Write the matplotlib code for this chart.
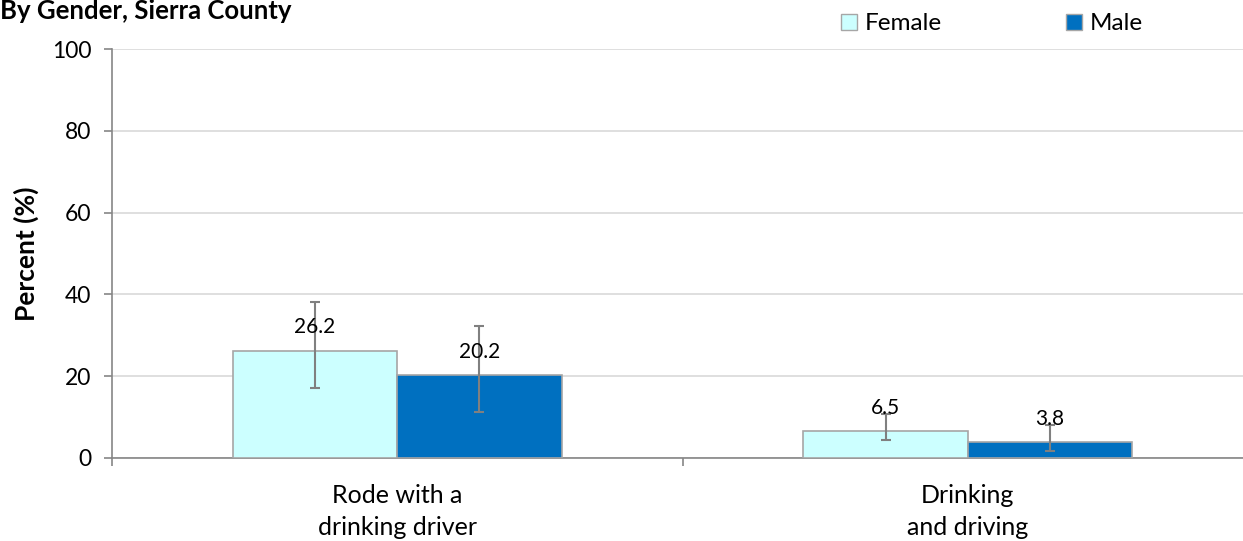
import numpy as np
import matplotlib
matplotlib.use("Agg")
import matplotlib.pyplot as plt
from matplotlib.patches import Patch

# Data
categories = ["Rode with a\ndrinking driver", "Drinking\nand driving"]
groups = ["Female", "Male"]
female = [26.2, 6.5]
male = [20.2, 3.8]
female_lo = [17.2, 4.4]
female_hi = [38.2, 10.7]
male_lo = [11.2, 1.7]
male_hi = [32.3, 8.1]
yticks = [0, 20, 40, 60, 80, 100]

plt.rcParams["font.family"] = ["Lato", "DejaVu Sans"]

FEMALE_C = "#CCFFFF"
MALE_C = "#0070C0"
EDGE = "#A6A6A6"
ERR = "#808080"

fig = plt.figure(figsize=(12.43, 5.41), dpi=100)
ax = fig.add_axes([112 / 1243, 1 - 458 / 541, 1141 / 1243, (458 - 49) / 541])

x = np.arange(len(categories))
w = 0.288

def draw(vals, lo, hi, offs, color):
    vals = np.array(vals); lo = np.array(lo); hi = np.array(hi)
    pos = x + offs
    ax.bar(pos, vals, w, color=color, edgecolor=EDGE, linewidth=1.2, zorder=3)
    ax.errorbar(pos, vals, yerr=[vals - lo, hi - vals], fmt="none",
                ecolor=ERR, elinewidth=1.5, capsize=3.6, capthick=1.5, zorder=4)
    for p, v in zip(pos, vals):
        ax.annotate(f"{v:.1f}", (p, v), xytext=(0, 17), textcoords="offset points",
                    ha="center", va="center", fontsize=15, color="black", zorder=5)

draw(female, female_lo, female_hi, -w / 2, FEMALE_C)
draw(male, male_lo, male_hi, w / 2, MALE_C)

ax.set_xlim(-0.5, 1.5)
ax.set_ylim(0, 100)
ax.set_yticks(yticks)
ax.set_yticklabels([str(t) for t in yticks], fontsize=16.5)
ax.yaxis.grid(True, color="#D9D9D9", linewidth=1.2, zorder=0)
ax.set_axisbelow(True)

# category labels and divider ticks
ax.set_xticks(x)
ax.set_xticklabels(categories, fontsize=18, linespacing=1.45)
ax.tick_params(axis="x", length=0, pad=19)
ax.set_xticks([-0.5, 0.5, 1.5], minor=True)
ax.tick_params(axis="x", which="minor", length=6, color="#868686", width=1.2)
ax.tick_params(axis="y", length=6, color="#868686", width=1.2, pad=9)

for s in ["top", "right"]:
    ax.spines[s].set_visible(False)
for s in ["left", "bottom"]:
    ax.spines[s].set_color("#868686")
    ax.spines[s].set_linewidth(1.2)

ax.set_ylabel("Percent (%)", fontsize=19, fontweight="bold")
ax.yaxis.set_label_coords(-73 / 1141, 0.5)

fig.text(0.0, 1 - 19 / 541, "By Gender, Sierra County", fontsize=18.5,
         fontweight="bold", ha="left", va="baseline")

handles = [Patch(facecolor=FEMALE_C, edgecolor=EDGE), Patch(facecolor=MALE_C, edgecolor=EDGE)]
fig.legend(handles, groups, loc="center left", bbox_to_anchor=(841 / 1243, 1 - 24 / 541),
           ncol=2, frameon=False, fontsize=17.5, handlelength=0.66, handleheight=0.66,
           handletextpad=0.33, columnspacing=5.1, borderaxespad=0, borderpad=0)

fig.savefig("out.png", dpi=100)
